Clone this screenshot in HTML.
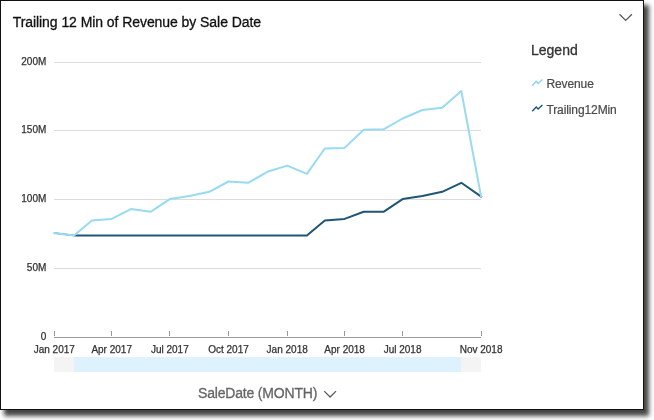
<!DOCTYPE html>
<html><head><meta charset="utf-8"><title>Trailing 12 Min of Revenue by Sale Date</title>
<style>
html,body{margin:0;padding:0;background:#fff;}
body{width:654px;height:420px;overflow:hidden;position:relative;font-family:"Liberation Sans",Arial,Helvetica,sans-serif;}
#panel{position:absolute;left:0;top:0;width:642px;height:408px;border:1px solid #111;background:#fff;box-shadow:4.8px 5.2px 4.5px 0.5px rgba(0,0,0,0.73);}
#title{position:absolute;left:12.7px;top:13.5px;letter-spacing:-0.065px;font-size:14px;line-height:16px;color:#111;white-space:nowrap;}
#legend-title{position:absolute;left:531px;top:42.1px;font-size:14px;line-height:16px;color:#333;}
.leg{position:absolute;left:546.4px;letter-spacing:-0.1px;font-size:12px;line-height:14px;color:#4a4a4a;white-space:nowrap;}
#xtitle{position:absolute;left:198px;top:385.3px;letter-spacing:-0.18px;font-size:14px;line-height:16px;color:#666;white-space:nowrap;}
svg{position:absolute;left:0;top:0;}
svg text{font-family:"Liberation Sans",Arial,Helvetica,sans-serif;font-size:10px;fill:#333;stroke:#333;stroke-width:0.25px;}
#title,#legend-title,#xtitle{-webkit-text-stroke:0.3px currentColor;}
.leg{-webkit-text-stroke:0.2px currentColor;}
</style></head><body>
<div id="panel"></div>
<svg width="654" height="420" viewBox="0 0 654 420">
<rect x="54" y="62" width="427" height="1" fill="#dcdcdc"/><rect x="54" y="130" width="427" height="1" fill="#dcdcdc"/><rect x="54" y="199" width="427" height="1" fill="#dcdcdc"/><rect x="54" y="268" width="427" height="1" fill="#dcdcdc"/>
<rect x="54" y="337" width="427" height="1" fill="#999"/>
<rect x="54" y="331" width="1" height="5" fill="#999"/><rect x="111" y="331" width="1" height="5" fill="#999"/><rect x="169" y="331" width="1" height="5" fill="#999"/><rect x="228" y="331" width="1" height="5" fill="#999"/><rect x="287" y="331" width="1" height="5" fill="#999"/><rect x="344" y="331" width="1" height="5" fill="#999"/><rect x="402" y="331" width="1" height="5" fill="#999"/><rect x="481" y="331" width="1" height="5" fill="#999"/>
<text x="46.3" y="64.6" text-anchor="end">200M</text><text x="46.3" y="132.6" text-anchor="end">150M</text><text x="46.3" y="201.6" text-anchor="end">100M</text><text x="46.3" y="270.6" text-anchor="end">50M</text><text x="46.3" y="339.6" text-anchor="end">0</text>
<text x="54.3" y="352.9" text-anchor="middle">Jan 2017</text><text x="111.7" y="352.9" text-anchor="middle">Apr 2017</text><text x="169.8" y="352.9" text-anchor="middle">Jul 2017</text><text x="228.5" y="352.9" text-anchor="middle">Oct 2017</text><text x="287.2" y="352.9" text-anchor="middle">Jan 2018</text><text x="344.6" y="352.9" text-anchor="middle">Apr 2018</text><text x="402.6" y="352.9" text-anchor="middle">Jul 2018</text><text x="481.1" y="352.9" text-anchor="middle">Nov 2018</text>
<rect x="54" y="357" width="427" height="15" fill="#f4f4f4"/>
<rect x="74.2" y="357" width="386.8" height="15" fill="#ddf2fd"/>
<polyline points="54.3,233.1 74.1,235.6" fill="none" stroke="#1f5675" stroke-width="1.5" stroke-linecap="butt"/>
<polyline points="75.1,235.6 91.9,235.6 111.7,235.6 130.9,235.6 150.6,235.6 169.8,235.6 189.5,235.6 209.3,235.6 228.5,235.6 248.2,235.6 267.4,235.6 287.2,235.6 306.9,235.6 324.8,220.4 344.6,218.9 363.7,211.8 383.5,211.8 402.6,199.1 422.4,196.0 442.2,191.8 461.3,182.8 481.1,196.6" fill="none" stroke="#1f5675" stroke-width="2" stroke-linejoin="round" stroke-linecap="square"/>
<polyline points="54.3,233.1 74.1,235.6 91.9,220.4 111.7,218.9 130.9,209.1 150.6,211.8 169.8,199.1 189.5,196.0 209.3,191.8 228.5,181.5 248.2,182.8 267.4,171.8 287.2,165.6 306.9,173.8 324.8,148.5 344.6,147.9 363.7,129.7 383.5,129.3 402.6,118.5 422.4,110.0 442.2,107.8 461.3,91.0 481.1,196.6" fill="none" stroke="#97daf2" stroke-width="2" stroke-linejoin="round" stroke-linecap="square"/>
<polyline points="532.2,85.8 536.2,81.3 538.1,83.4 542.4,79.4" fill="none" stroke="#8dd3ee" stroke-width="1.4"/>
<polyline points="532.2,111.3 536.2,107 538.2,109.1 542.4,105.1" fill="none" stroke="#1f5675" stroke-width="1.4"/>
<polyline points="619.5,14.2 625.7,20.4 631.9,14.2" fill="none" stroke="#595959" stroke-width="1.3"/>
<polyline points="324.2,391.1 330.1,397 336,391.1" fill="none" stroke="#5c5c5c" stroke-width="1.25"/>
</svg>
<div id="title">Trailing 12 Min of Revenue by Sale Date</div>
<div id="legend-title">Legend</div>
<div class="leg" style="top:77.2px">Revenue</div>
<div class="leg" style="top:103.2px">Trailing12Min</div>
<div id="xtitle">SaleDate (MONTH)</div>
</body></html>
